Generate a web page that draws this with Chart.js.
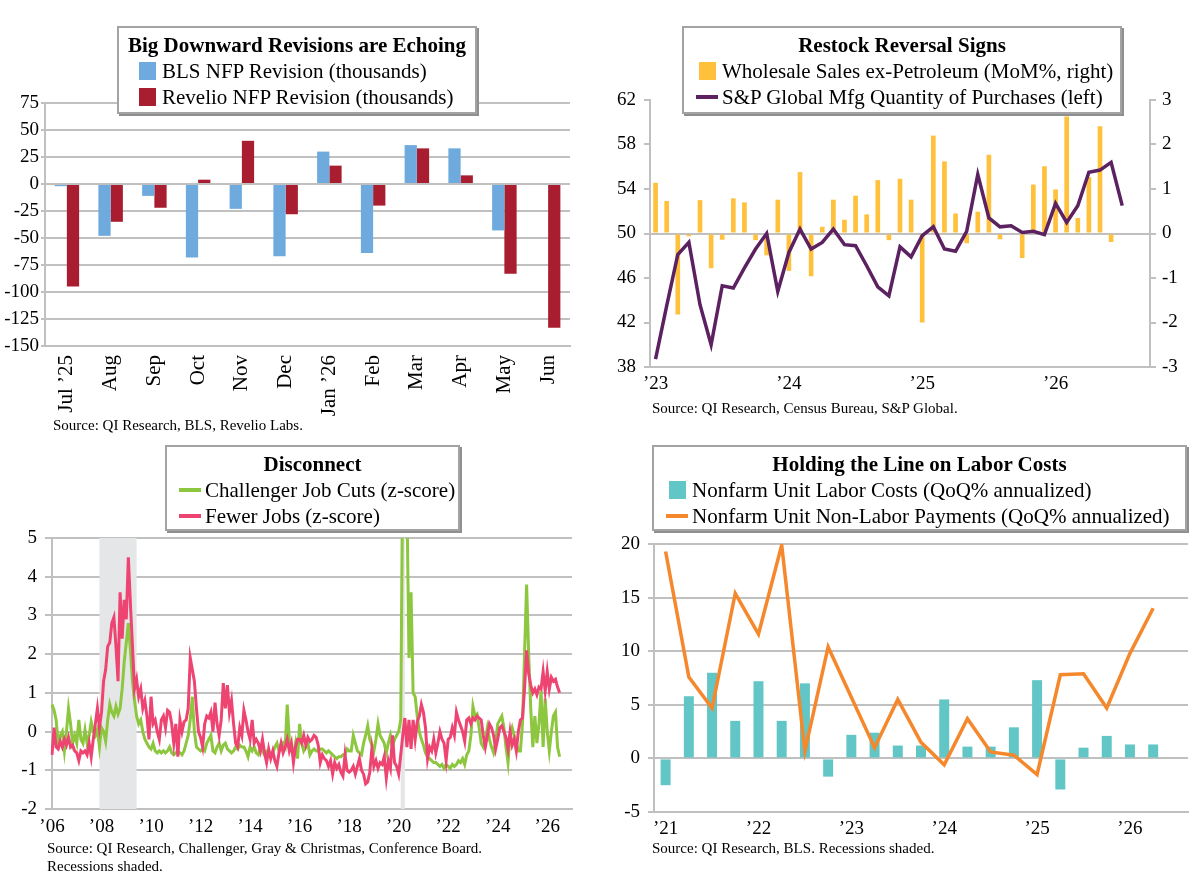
<!DOCTYPE html>
<html>
<head>
<meta charset="utf-8">
<script src="https://cdn.jsdelivr.net/npm/chart.js@4.4.1/dist/chart.umd.min.js"></script>
<style>
  body { margin: 0; width: 1200px; height: 887px; background: #fff; position: relative; overflow: hidden;
         font-family: 'Liberation Serif', serif; color: #000; }
  canvas { position: absolute; }
  .legend { position: absolute; box-sizing: border-box; background: #fff; border: 2px solid #a3a3a3;
            box-shadow: 2px 2px 0 #8f8f8f; }
  .ttl { font-weight: bold; text-align: center; font-size: 21px; line-height: 26px; margin-top: 4px; }
  .item { display: flex; align-items: center; font-size: 21px; line-height: 26px; white-space: nowrap; }
  .sq { display: inline-block; width: 17px; height: 18px; margin-right: 6px; }
  .ln { display: inline-block; width: 22px; height: 4px; margin-right: 4px; }
  .src { position: absolute; font-size: 15px; line-height: 18px; }
</style>
</head>
<body>

<canvas id="revChart" width="600" height="340" style="left:0;top:90px"></canvas>
<canvas id="restockChart" width="600" height="310" style="left:600px;top:90px"></canvas>
<canvas id="discChart" width="600" height="320" style="left:0;top:520px"></canvas>
<canvas id="laborChart" width="600" height="320" style="left:600px;top:520px"></canvas>

<div class="legend" style="left:117px;top:26px;width:360px;height:88px">
  <div class="ttl">Big Downward Revisions are Echoing</div>
  <div class="item" style="padding-left:20px"><span class="sq" style="background:#6eaadd"></span>BLS NFP Revision (thousands)</div>
  <div class="item" style="padding-left:20px"><span class="sq" style="background:#a81e30"></span>Revelio NFP Revision (thousands)</div>
</div>
<div class="legend" style="left:682px;top:26px;width:440px;height:88px">
  <div class="ttl">Restock Reversal Signs</div>
  <div class="item" style="padding-left:15px"><span class="sq" style="background:#ffc13b"></span>Wholesale Sales ex-Petroleum (MoM%, right)</div>
  <div class="item" style="padding-left:12px"><span class="ln" style="background:#5b2160"></span>S&amp;P Global Mfg Quantity of Purchases (left)</div>
</div>
<div class="legend" style="left:165px;top:445px;width:295px;height:86px">
  <div class="ttl">Disconnect</div>
  <div class="item" style="padding-left:12px"><span class="ln" style="background:#8dc63f"></span>Challenger Job Cuts (z-score)</div>
  <div class="item" style="padding-left:12px"><span class="ln" style="background:#ee4472"></span>Fewer Jobs (z-score)</div>
</div>
<div class="legend" style="left:652px;top:445px;width:535px;height:86px">
  <div class="ttl">Holding the Line on Labor Costs</div>
  <div class="item" style="padding-left:15px"><span class="sq" style="background:#63c6c6"></span>Nonfarm Unit Labor Costs (QoQ% annualized)</div>
  <div class="item" style="padding-left:12px"><span class="ln" style="background:#f5882c"></span>Nonfarm Unit Non-Labor Payments (QoQ% annualized)</div>
</div>

<div class="src" style="left:53px;top:416px">Source: QI Research, BLS, Revelio Labs.</div>
<div class="src" style="left:652px;top:399px">Source: QI Research, Census Bureau, S&amp;P Global.</div>
<div class="src" style="left:47px;top:839px">Source: QI Research, Challenger, Gray &amp; Christmas, Conference Board.<br>Recessions shaded.</div>
<div class="src" style="left:652px;top:839px">Source: QI Research, BLS. Recessions shaded.</div>

<script>
// ---- Big Downward Revisions are Echoing ----
const revMonths = ['Jul ’25', 'Aug', 'Sep', 'Oct', 'Nov', 'Dec', 'Jan ’26', 'Feb', 'Mar', 'Apr', 'May', 'Jun'];
const blsRevision = [-2, -48, -11, -68, -23, -67, 30, -64, 36, 33, -43, null];
const revelioRevision = [-95, -35, -22, 4, 40, -28, 17, -20, 33, 8, -83, -133];
const revTicks = { min: -150, max: 75, step: 25 };

// ---- Restock Reversal Signs (monthly from Jan 2023) ----
const wholesaleSales = [1.14, 0.73, -1.82, -0.06, 0.75, -0.78, -0.14, 0.79, 0.70, -0.15, -0.49, 0.76,
  -0.84, 1.38, -0.96, 0.15, 0.76, 0.31, 0.85, 0.43, 1.20, -0.15, 1.23, 0.76,
  -2.0, 2.20, 1.62, 0.45, -0.22, 0.49, 1.77, -0.13, 0.02, -0.55, 1.10, 1.51,
  0.99, 2.63, 0.35, 1.27, 2.41, -0.19];
const spgPurchases = [38.7, 43.5, 48.1, 49.2, 43.6, 40.0, 45.3, 45.1, 46.9, 48.6, 50.0, 44.8,
  48.3, 50.4, 48.6, 49.2, 50.4, 49.0, 48.9, 47.1, 45.2, 44.4, 48.8, 47.9,
  49.8, 50.6, 48.6, 48.4, 50.2, 55.3, 51.4, 50.6, 50.7, 50.1, 50.2, 49.9,
  52.7, 51.0, 52.5, 55.5, 55.7, 56.4, 52.5];
const restockLeftTicks = { min: 38, max: 62, step: 4 };
const restockRightTicks = { min: -3, max: 3, step: 1 };

// ---- Disconnect (monthly from Jan 2006) ----
const challengerCuts = [
  0.7, 0.55, 0.3, -0.3, -0.1, 0.0, -0.5, 0.0, 0.6, 0.2, -0.3, -0.1,
  -0.3, 0.3, -0.2, -0.3, 0.05, -0.3, -0.1, 0.25, 0.0, -0.1, 0.05, -0.4,
  0.1, 0.0, -0.25, 0.3, 0.7, 0.5, 0.4, 0.65, 0.45, 0.6, 1.1, 1.8,
  2.3, 2.8, 2.1, 1.3, 0.8, 0.4, 0.2, 0.3, 0.0, -0.2, -0.3, -0.4,
  -0.45, -0.3, -0.5, -0.55, -0.5, -0.55, -0.5, -0.55, -0.5, -0.4, -0.55, -0.6,
  -0.55, -0.5, -0.55, -0.6, -0.5, -0.3, -0.1, 0.3, 0.9, 0.0, -0.4, -0.45,
  -0.5, -0.45, -0.5, -0.3, -0.2, -0.1, -0.5, -0.55, -0.4, -0.3, -0.5, -0.35,
  -0.3, -0.45, -0.5, -0.55, -0.5, -0.4, -0.45, -0.35, -0.4, -0.4, -0.5, -0.65,
  -0.4, -0.5, -0.4, -0.55, -0.6, -0.4, -0.5, -0.6, -0.5, -0.5, -0.6, -0.55,
  -0.4, -0.3, -0.5, -0.4, -0.3, -0.4, 0.7, -0.2, -0.5, -0.6, -0.3, -0.7,
  0.2, -0.3, -0.5, -0.4, -0.3, -0.6, -0.5, -0.45, -0.5, -0.5, -0.45, -0.45,
  -0.5, -0.55, -0.5, -0.55, -0.6, -0.65, -0.7, -0.65, -0.65, -0.6, -0.6, -0.45,
  -0.5, -0.5, -0.1, -0.3, -0.5, -0.55, -0.6, -0.3, -0.1, 0.15, -0.2, -0.35,
  -0.5, -0.2, 0.2, -0.1, -0.2, -0.3, -0.55, -0.3, -0.1, -0.4, -0.2, -0.1,
  0.0, 0.3, 7.0, 12.0, 6.0, 1.9, 3.6, 1.0, 0.9, 0.4, 0.0, -0.2,
  -0.35, -0.55, -0.65, -0.7, -0.75, -0.8, -0.8, -0.85, -0.9, -0.85, -0.95, -0.85,
  -0.9, -0.95, -0.85, -0.9, -0.85, -0.75, -0.8, -0.7, -0.85, -0.6, -0.5, -0.1,
  0.65, 0.4, 0.45, 0.1, -0.3, -0.4, -0.2, 0.1, -0.2, -0.4, -0.55, -0.3,
  0.2, 0.3, 0.4, 0.1, -0.4, -0.8, -0.1, 0.1, -0.1, -0.3, -0.5, -0.5,
  0.2, 2.0, 3.8, 2.0, 0.6, -0.4, 0.4, -0.3, 0.2, 1.05, -0.4, 0.85,
  0.0, -0.5, 0.0, 0.4, 0.5, -0.4, -0.65];
const fewerJobs = [
  -0.6, 0.1, -0.4, -0.45, -0.25, -0.4, -0.2, -0.35, -0.15, -0.4, -0.35, -0.5,
  -0.55, -0.75, -0.5, -0.55, -0.5, -0.6, -0.3, -0.65, -0.2, 0.2, 0.6, 0.1,
  0.5, 1.3, 1.6, 2.2, 2.3, 2.8, 2.95, 2.2, 1.3, 3.6, 2.4, 3.4,
  2.9, 4.5, 3.3, 2.2, 1.1, 1.35, 0.9, 1.1, 0.6, 0.8, 0.4, -0.2,
  0.9, 0.2, 0.3, 0.0, -0.2, 0.3, 0.4, 0.1, 0.55, 0.5, 0.2, -0.3,
  0.2, -0.65, 0.3, 0.0, 0.25, 0.3, 0.6, 1.9, 1.6, 1.3, 0.6, 0.0,
  -0.15, -0.4, 0.2, 0.4, 0.35, 0.5, 0.0, 0.75, 0.2, -0.1, 0.3, 1.25,
  0.6, 1.2, 0.5, 0.8, 0.2, -0.3, -0.4, 0.1, -0.1, 0.55, 0.3, 0.0,
  -0.2, 0.3, -0.3, -0.2, -0.3, -0.5, -0.2, -0.55, -0.8, -0.45, -0.7, -0.5,
  -0.75, -0.9, -0.55, -0.3, -0.55, -0.4, -0.2, -0.5, -0.3, -0.8, -0.4, -0.2,
  -0.2, -0.3, -0.1, -0.35, -0.15, -0.25, -0.2, -0.1, -0.15, -0.35, -0.8, -0.6,
  -0.7, -0.75, -0.9, -0.75, -1.1, -0.8, -0.95, -0.85, -1.05, -1.15, -0.6, -1.0,
  -1.05, -1.0, -0.9, -1.1, -0.9, -0.7, -1.0, -1.1, -1.35, -1.3, -1.05, -0.45,
  -0.9, -0.75, -0.95, -0.8, -0.85, -0.65, -1.2, -0.75, -0.95, -0.1, -0.8, -0.9,
  -1.1, -0.6, -0.1, 0.35, -0.4, 0.3, -0.45, 0.3, -0.2, 0.25, 0.4, 0.7,
  0.5, 0.1, -0.7, -0.4, -0.5, -0.2, -0.55, -0.3, 0.0, -0.2, -0.3, -0.75,
  -0.2, -0.15, 0.1, -0.1, 0.5, 0.3, 0.15, 0.0, -0.25, 0.3, 0.35, 0.2,
  0.35, 0.3, 0.4, 0.35, 0.3, -0.1, -0.4, -0.1, 0.2, 0.1, -0.1, -0.45,
  -0.2, 0.1, 0.15, 0.0, -0.15, -0.45, 0.0, -0.35, -0.2, -0.5, 0.0, 0.3,
  0.35, 1.1, 2.1, 1.5, 1.2, 1.0, 1.1, 0.95, 1.15, 1.1, 1.55, 1.05,
  1.55, 1.1, 1.4, 1.3, 1.35, 1.15, 1.0];
const recessions = [['2007-12', '2009-06'], ['2020-02', '2020-04']];
const discTicks = { min: -2, max: 5, step: 1 };

// ---- Holding the Line on Labor Costs (quarterly from Q1 2021) ----
const unitLaborCosts = [-2.5, 5.8, 8.0, 3.5, 7.2, 3.5, 7.0, -1.7, 2.2, 2.4, 1.2, 1.2,
  5.5, 1.1, 1.1, 2.9, 7.3, -2.9, 1.0, 2.1, 1.3, 1.3];
const nonLaborPayments = [19.3, 7.6, 4.7, 15.4, 11.6, 19.9, 0.7, 10.4, 5.7, 1.0, 5.5, 1.5,
  -0.6, 3.7, 0.6, 0.3, -1.5, 7.8, 7.9, 4.7, 9.8, 14.0];
const laborTicks = { min: -5, max: 20, step: 5 };

// ---- helpers ----
const GRID = '#c0c0c0';
Chart.defaults.font.family = "'Liberation Serif', serif";
Chart.defaults.font.size = 19;
Chart.defaults.color = '#000';
Chart.defaults.animation = false;

function monthLabels(year, month, n) {
  const out = [];
  for (let i = 0; i < n; i++) {
    const t = year * 12 + month - 1 + i;
    out.push(Math.floor(t / 12) + '-' + String(t % 12 + 1).padStart(2, '0'));
  }
  return out;
}

function quarterLabels(year, n) {
  const out = [];
  for (let i = 0; i < n; i++) out.push((year + Math.floor(i / 4)) + ' Q' + (i % 4 + 1));
  return out;
}

const yy = lab => '’' + lab.slice(2, 4);

// pin axis sizes so the plot areas land where the reference has them
function fixY(width) {
  return s => { s.width = width; s.paddingTop = 0; s.paddingBottom = 0; };
}
function fixX(height) {
  return s => { s.height = height; s.paddingLeft = 0; s.paddingRight = 0; };
}

const recessionShade = {
  id: 'recessionShade',
  beforeDatasetsDraw(chart, args, opts) {
    if (!opts.spans) return;
    const { ctx, chartArea: a } = chart;
    const x = chart.scales.x;
    const labels = x.getLabels();
    ctx.save();
    ctx.fillStyle = opts.color;
    opts.spans.forEach(([s, e]) => {
      const x0 = x.getPixelForValue(labels.indexOf(s));
      const x1 = x.getPixelForValue(labels.indexOf(e));
      ctx.fillRect(x0, a.top, x1 - x0, a.bottom - a.top);
    });
    ctx.restore();
  }
};

// ---- chart 1 ----
new Chart(document.getElementById('revChart'), {
  type: 'bar',
  data: {
    labels: revMonths,
    datasets: [
      { label: 'BLS NFP Revision (thousands)', data: blsRevision, backgroundColor: '#6eaadd',
        barPercentage: 1, categoryPercentage: 0.56 },
      { label: 'Revelio NFP Revision (thousands)', data: revelioRevision, backgroundColor: '#a81e30',
        barPercentage: 1, categoryPercentage: 0.56 }
    ]
  },
  options: {
    responsive: false,
    layout: { padding: { top: 13, right: 30, left: 0, bottom: 0 } },
    plugins: { legend: { display: false }, tooltip: { enabled: false } },
    scales: {
      x: {
        grid: { display: false, drawTicks: false },
        border: { color: GRID, width: 2 },
        ticks: { minRotation: 90, maxRotation: 90, padding: 9, autoSkip: false, font: { size: 21 } },
        afterFit: fixX(84)
      },
      y: {
        min: revTicks.min, max: revTicks.max,
        ticks: { stepSize: revTicks.step, padding: 2 },
        grid: { color: GRID, lineWidth: 2, tickLength: 4 },
        border: { color: GRID, width: 2 },
        afterFit: fixY(45)
      }
    }
  }
});

// ---- chart 2 ----
const restockMonths = monthLabels(2023, 1, 45);
new Chart(document.getElementById('restockChart'), {
  data: {
    labels: restockMonths,
    datasets: [
      { type: 'line', label: 'S&P Global Mfg Quantity of Purchases (left)', data: spgPurchases, yAxisID: 'y',
        borderColor: '#5b2160', borderWidth: 3.5, pointRadius: 0, tension: 0, order: 0 },
      { type: 'bar', label: 'Wholesale Sales ex-Petroleum (MoM%, right)', data: wholesaleSales, yAxisID: 'y1',
        backgroundColor: '#ffc13b', barPercentage: 1, categoryPercentage: 0.42, order: 1 }
    ]
  },
  options: {
    responsive: false,
    layout: { padding: { top: 10, right: 0, left: 0, bottom: 0 } },
    plugins: { legend: { display: false }, tooltip: { enabled: false } },
    scales: {
      x: {
        offset: true,
        grid: { display: false, drawTicks: false },
        border: { color: GRID, width: 2 },
        ticks: {
          autoSkip: false, maxRotation: 0, padding: 6,
          callback(v, i) { const l = restockMonths[i]; return l.endsWith('-01') ? yy(l) : ''; }
        },
        afterFit: fixX(33)
      },
      y: {
        position: 'left',
        min: restockLeftTicks.min, max: restockLeftTicks.max,
        ticks: { stepSize: restockLeftTicks.step, padding: 8 },
        grid: { color: c => c.tick && c.tick.value === 50 ? GRID : 'rgba(0,0,0,0)', tickColor: GRID,
                lineWidth: 2, tickLength: 6 },
        border: { color: GRID, width: 2 },
        afterFit: fixY(50)
      },
      y1: {
        position: 'right',
        min: restockRightTicks.min, max: restockRightTicks.max,
        ticks: { stepSize: restockRightTicks.step, padding: 6 },
        grid: { drawOnChartArea: false, tickColor: GRID, lineWidth: 2, tickLength: 6 },
        border: { color: GRID, width: 2 },
        afterFit: fixY(50)
      }
    }
  }
});

// ---- chart 3 ----
const discMonths = monthLabels(2006, 1, 253);
new Chart(document.getElementById('discChart'), {
  type: 'line',
  data: {
    labels: discMonths,
    datasets: [
      { label: 'Fewer Jobs (z-score)', data: fewerJobs, borderColor: '#ee4472', borderWidth: 3,
        pointRadius: 0, tension: 0 },
      { label: 'Challenger Job Cuts (z-score)', data: challengerCuts, borderColor: '#8dc63f', borderWidth: 3,
        pointRadius: 0, tension: 0 }
    ]
  },
  plugins: [recessionShade],
  options: {
    responsive: false,
    layout: { padding: { top: 18, right: 28, left: 0, bottom: 0 } },
    plugins: {
      legend: { display: false }, tooltip: { enabled: false },
      recessionShade: { spans: recessions, color: '#e5e6e8' }
    },
    scales: {
      x: {
        offset: false,
        grid: { display: false, drawTicks: false },
        border: { color: GRID, width: 2 },
        ticks: {
          autoSkip: false, maxRotation: 0, padding: 7,
          callback(v, i) {
            const l = discMonths[i];
            return l.endsWith('-01') && Number(l.slice(0, 4)) % 2 === 0 && i <= 240 ? yy(l) : '';
          }
        },
        afterFit: fixX(31)
      },
      y: {
        min: discTicks.min, max: discTicks.max,
        ticks: { stepSize: discTicks.step, padding: 8 },
        grid: { color: GRID, lineWidth: 2, tickLength: 7 },
        border: { color: GRID, width: 2 },
        afterFit: fixY(52)
      }
    }
  }
});

// ---- chart 4 ----
const laborQuarters = quarterLabels(2021, 23);
new Chart(document.getElementById('laborChart'), {
  data: {
    labels: laborQuarters,
    datasets: [
      { type: 'line', label: 'Nonfarm Unit Non-Labor Payments (QoQ% annualized)', data: nonLaborPayments,
        borderColor: '#f5882c', borderWidth: 3.5, pointRadius: 0, tension: 0, order: 0 },
      { type: 'bar', label: 'Nonfarm Unit Labor Costs (QoQ% annualized)', data: unitLaborCosts,
        backgroundColor: '#63c6c6', barPercentage: 1, categoryPercentage: 0.43, order: 1 }
    ]
  },
  options: {
    responsive: false,
    layout: { padding: { top: 24, right: 12, left: 0, bottom: 0 } },
    plugins: { legend: { display: false }, tooltip: { enabled: false } },
    scales: {
      x: {
        offset: true,
        grid: { display: false, drawTicks: false },
        border: { color: GRID, width: 2 },
        ticks: {
          autoSkip: false, maxRotation: 0, padding: 6,
          callback(v, i) { const l = laborQuarters[i]; return l.endsWith('Q1') ? yy(l) : ''; }
        },
        afterFit: fixX(28)
      },
      y: {
        min: laborTicks.min, max: laborTicks.max,
        ticks: { stepSize: laborTicks.step, padding: 8 },
        grid: { color: GRID, lineWidth: 2, tickLength: 6 },
        border: { color: GRID, width: 2 },
        afterFit: fixY(54)
      }
    }
  }
});
</script>
</body>
</html>
